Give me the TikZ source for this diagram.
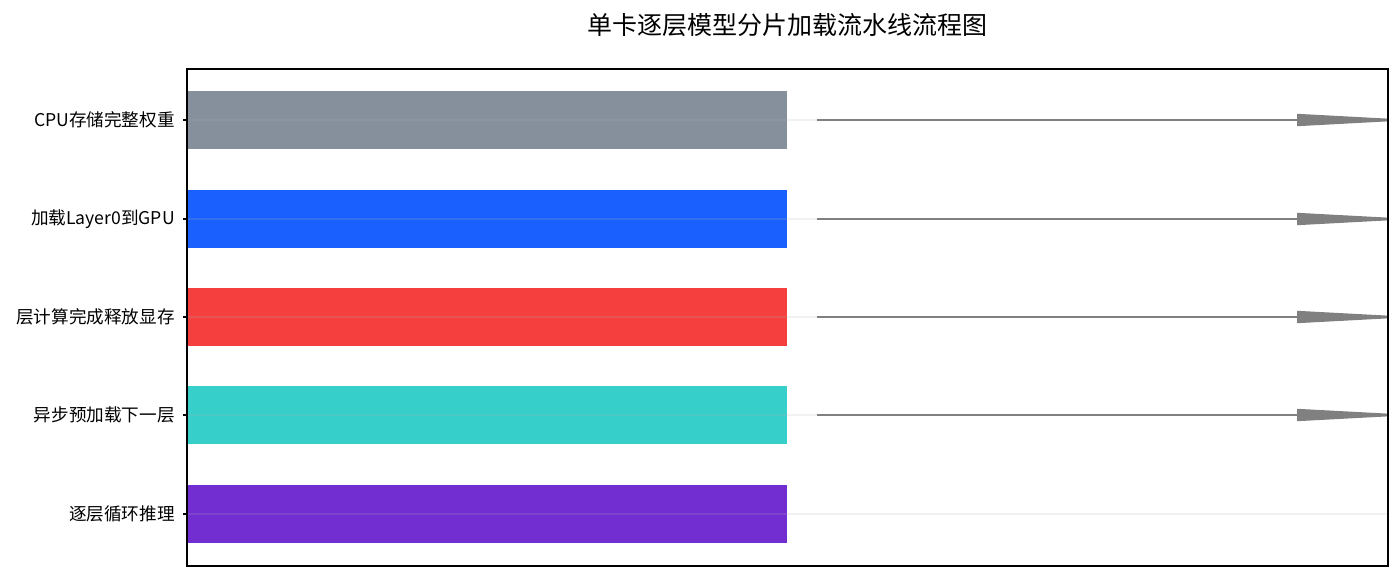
\documentclass[tikz,border=0pt]{standalone}
\usepackage{fontspec}
\setmainfont{Noto Sans CJK SC}
\usetikzlibrary{arrows.meta}
\definecolor{cgray}{HTML}{86909C}
\definecolor{cblue}{HTML}{1960FF}
\definecolor{cred}{HTML}{F53F3F}
\definecolor{cteal}{HTML}{37CFCA}
\definecolor{cpurple}{HTML}{722ED1}
\definecolor{arrowgray}{HTML}{808080}
\tikzset{
  bar/.style={draw=none, minimum width=450pt, minimum height=43.5pt, inner sep=0pt, outer sep=0pt},
  lab/.style={anchor=east, font=\fontsize{13.2pt}{15pt}\selectfont, inner sep=0pt},
  gridline/.style={draw=black!30, draw opacity=0.18, line width=0.8pt},
  flow/.style={draw=arrowgray, line width=1.1pt, -{Triangle[length=87.75pt,width=9pt]}},
}
\begin{document}
\begin{tikzpicture}[x=0.75pt,y=-0.75pt]
\useasboundingbox (0,0) rectangle (1400,579);
\fill[white] (0,0) rectangle (1400,579);
\node[font=\fontsize{18.75pt}{22pt}\selectfont] (title) at (787,25) {单卡逐层模型分片加载流水线流程图};
% bars
\foreach \n/\y/\c in {b1/120/cgray,b2/219/cblue,b3/317/cred,b4/415/cteal,b5/514/cpurple}{
  \node[bar, fill=\c, anchor=west] (\n) at (187,\y) {};
  \draw[gridline] (187,\y) -- (1387,\y);
  \draw[line width=0.8pt] (183,\y) -- (187,\y);
  \coordinate (s\n) at (817,\y);
  \coordinate (e\n) at (1414,\y);
}
\node[lab] (l1) at (175,120) {CPU存储完整权重};
\node[lab] (l2) at (175,219) {加载Layer0到GPU};
\node[lab] (l3) at (175,317) {层计算完成释放显存};
\node[lab] (l4) at (175,415) {异步预加载下一层};
\node[lab] (l5) at (175,514) {逐层循环推理};
\begin{scope}
\clip (187,69) rectangle (1388,566);
\draw[flow] (sb1) -- (eb1);
\draw[flow] (sb2) -- (eb2);
\draw[flow] (sb3) -- (eb3);
\draw[flow] (sb4) -- (eb4);
\end{scope}
\draw[line width=1pt] (187,69) rectangle (1388,566);
\end{tikzpicture}
\end{document}
